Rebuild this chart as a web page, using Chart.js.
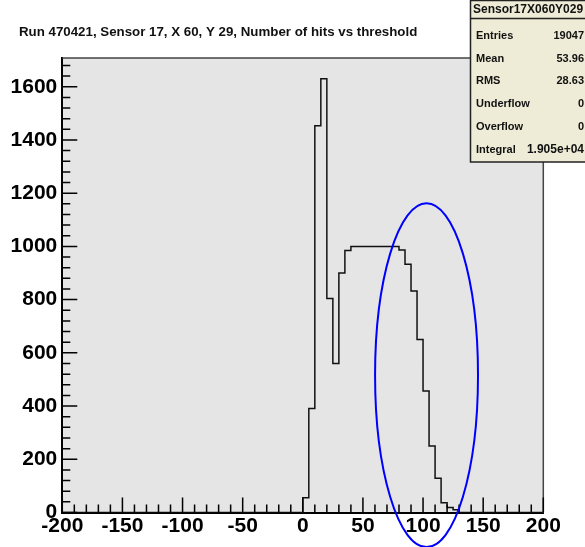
<!DOCTYPE html>
<html>
<head>
<meta charset="utf-8">
<script src="https://cdn.jsdelivr.net/npm/chart.js@4.4.1/dist/chart.umd.min.js"></script>
<style>
  html, body { margin: 0; padding: 0; background: #fff; }
  #Grafico { display: block; }
</style>
</head>
<body>
<canvas id="Grafico" width="585" height="547"></canvas>
<script>
// Hits per threshold bin (bin width 5, first listed bin starts at 0)
const BinStart = 0;
const BinWidth = 5;
const Counts = [
  55, 391, 1453, 1630, 804, 560, 900, 985,
  1000, 1000, 1000, 1000, 1000, 1000, 1000, 1000,
  986, 933, 832, 650, 457, 250, 129, 37, 19, 10
];

const XTicks = [-200, -150, -100, -50, 0, 50, 100, 150, 200];
const YTicks = [0, 200, 400, 600, 800, 1000, 1200, 1400, 1600];
const XMin = -200, XMax = 200, YMax = 1708;

const Titulo = 'Run 470421, Sensor 17, X 60, Y 29, Number of hits vs threshold';
const StatsNombre = 'Sensor17X060Y029';
const StatsEtiquetas = ['Entries', 'Mean', 'RMS', 'Underflow', 'Overflow', 'Integral'];
const StatsValores   = ['19047', '53.96', '28.63', '0', '0', '1.905e+04'];

// Hand-drawn ring around the falling edge, in axis units
const Anillo = { x: 102.9, y: 516, rx: 42.8, ry: 646 };

const Fuente = '"Liberation Sans", Arial, sans-serif';

// outline points at each bin's low edge; 'before' steps make the histogram shape
const Puntos = [
  { x: XMin, y: 0 },
  ...Counts.map((C, I) => ({ x: BinStart + I * BinWidth, y: C })),
  { x: BinStart + Counts.length * BinWidth, y: 0 },
  { x: XMax, y: 0 }
];

const PluginMarco = {
  id: 'Marco',
  beforeDraw(Ch) {
    const Ctx = Ch.ctx, A = Ch.chartArea;
    Ctx.save();
    Ctx.fillStyle = '#ffffff';
    Ctx.fillRect(0, 0, Ch.width, Ch.height);
    Ctx.fillStyle = '#e5e5e5';
    Ctx.fillRect(A.left, A.top, A.right - A.left, A.bottom - A.top);
    Ctx.restore();
  },
  afterDatasetsDraw(Ch) {
    const Ctx = Ch.ctx, A = Ch.chartArea;
    const X = Ch.scales.x, Y = Ch.scales.y;
    Ctx.save();
    // frame top and right
    Ctx.strokeStyle = '#444';
    Ctx.lineWidth = 1.5;
    Ctx.beginPath();
    Ctx.moveTo(A.left, A.top);
    Ctx.lineTo(A.right, A.top);
    Ctx.lineTo(A.right, A.bottom);
    Ctx.stroke();

    // tick marks pointing into the frame
    Ctx.strokeStyle = '#000';
    Ctx.lineWidth = 1.5;
    Ctx.beginPath();
    for (let V = XMin; V <= XMax; V += 10) {
      const Px = X.getPixelForValue(V);
      const L = V % 50 === 0 ? 15 : 8;
      Ctx.moveTo(Px, A.bottom);
      Ctx.lineTo(Px, A.bottom - L);
    }
    for (let V = 0; V <= YMax; V += 40) {
      const Py = Y.getPixelForValue(V);
      const L = V % 200 === 0 ? 15 : 8;
      Ctx.moveTo(A.left, Py);
      Ctx.lineTo(A.left + L, Py);
    }
    Ctx.stroke();
    Ctx.restore();
  },
  afterDraw(Ch) {
    const Ctx = Ch.ctx;
    const X = Ch.scales.x, Y = Ch.scales.y;
    Ctx.save();

    // title
    Ctx.fillStyle = '#111';
    Ctx.font = `bold 13.3px ${Fuente}`;
    Ctx.textBaseline = 'middle';
    Ctx.textAlign = 'left';
    Ctx.fillText(Titulo, 19, 32);

    // ring
    const Cx = X.getPixelForValue(Anillo.x);
    const Cy = Y.getPixelForValue(Anillo.y);
    const Rx = X.getPixelForValue(Anillo.x + Anillo.rx) - Cx;
    const Ry = Cy - Y.getPixelForValue(Anillo.y + Anillo.ry);
    Ctx.strokeStyle = '#0000ff';
    Ctx.lineWidth = 2;
    Ctx.beginPath();
    Ctx.ellipse(Cx, Cy, Rx, Ry, 0, 0, Math.PI * 2);
    Ctx.stroke();

    // stats box
    const Bx = 470.5, By = 0.5, Bw = 130, Bh = 161.5;
    Ctx.fillStyle = '#eeecd6';
    Ctx.fillRect(Bx, By, Bw, Bh);
    Ctx.strokeStyle = '#222';
    Ctx.lineWidth = 1.5;
    Ctx.strokeRect(Bx, By, Bw, Bh);
    Ctx.beginPath();
    Ctx.moveTo(Bx, 18.5);
    Ctx.lineTo(Bx + Bw, 18.5);
    Ctx.stroke();

    Ctx.fillStyle = '#111';
    Ctx.font = `bold 12px ${Fuente}`;
    Ctx.textAlign = 'left';
    Ctx.fillText(StatsNombre, 473, 10);

    StatsEtiquetas.forEach((E, I) => {
      const Fy = 36 + I * 22.7;
      Ctx.font = `bold 11px ${Fuente}`;
      Ctx.textAlign = 'left';
      Ctx.fillText(E, 476, Fy);
      Ctx.font = `bold ${StatsValores[I].length > 6 ? 12 : 11}px ${Fuente}`;
      Ctx.textAlign = 'right';
      Ctx.fillText(StatsValores[I], 584, Fy);
    });
    Ctx.restore();
  }
};

new Chart(document.getElementById('Grafico').getContext('2d'), {
  type: 'line',
  data: {
    datasets: [{
      label: 'hits',
      data: Puntos,
      stepped: 'before',
      borderColor: '#111',
      borderWidth: 1.5,
      pointRadius: 0,
      fill: false
    }]
  },
  options: {
    responsive: false,
    animation: false,
    devicePixelRatio: 1,
    layout: { padding: { top: 58, right: 41.7, bottom: 0, left: 0 } },
    plugins: { legend: { display: false }, title: { display: false }, tooltip: { enabled: false } },
    scales: {
      x: {
        type: 'linear',
        min: XMin,
        max: XMax,
        grid: { display: false, drawTicks: false },
        border: { display: true, color: '#000', width: 2 },
        afterBuildTicks: S => { S.ticks = XTicks.map(V => ({ value: V })); },
        afterFit: S => { S.height = 34.5; },
        ticks: {
          padding: 1,
          color: '#000',
          font: { family: Fuente, size: 21, weight: 'bold' },
          maxRotation: 0,
          autoSkip: false,
          callback: V => String(V)
        }
      },
      y: {
        type: 'linear',
        min: 0,
        max: YMax,
        grid: { display: false, drawTicks: false },
        border: { display: true, color: '#000', width: 2 },
        afterBuildTicks: S => { S.ticks = YTicks.map(V => ({ value: V })); },
        afterFit: S => { S.width = 62.3; },
        ticks: {
          padding: 5,
          color: '#000',
          font: { family: Fuente, size: 21, weight: 'bold' },
          autoSkip: false,
          callback: V => String(V)
        }
      }
    }
  },
  plugins: [PluginMarco]
});
</script>
</body>
</html>
